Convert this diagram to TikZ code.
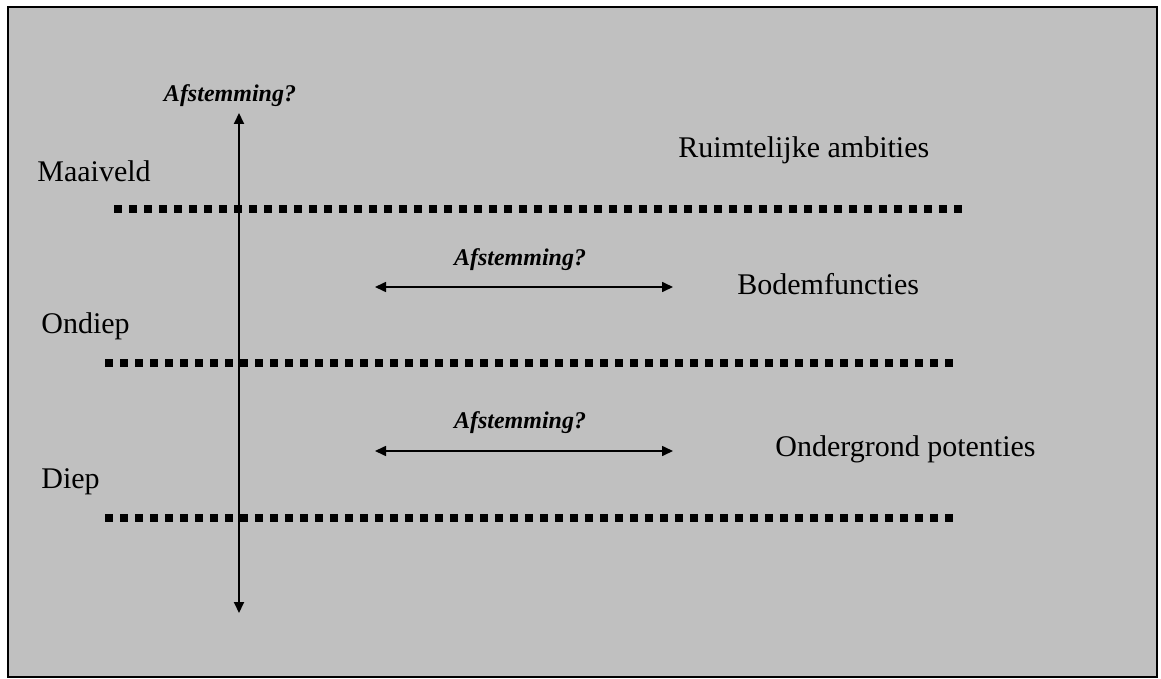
\documentclass[tikz,border=0pt]{standalone}
\usepackage{fontspec}
\setmainfont{Liberation Serif}
\usetikzlibrary{arrows.meta}
\definecolor{bggrey}{HTML}{C0C0C0}

\begin{document}
\begin{tikzpicture}[x=0.5pt,y=-0.5pt,
    lbl/.style={anchor=base west, inner sep=0pt, font=\fontsize{15}{18}\selectfont},
    vraag/.style={anchor=base, inner sep=0pt, font=\fontsize{12}{14}\selectfont\bfseries\itshape},
    laag/.style={line width=4pt, dash pattern=on 4pt off 3.5pt},
    pijl/.style={{Triangle[length=5.5pt,width=5pt]}-{Triangle[length=5.5pt,width=5pt]}, line width=0.8pt}]
    \useasboundingbox (0,0) rectangle (1161,679);
    \draw[fill=bggrey, line width=1pt] (8,7) rectangle (1157,677);
    % lagen
    \draw[laag] (114,209) -- (966,209);
    \draw[laag] (105,363) -- (955,363);
    \draw[laag] (105,518) -- (955,518);
    % teksten
    \node[lbl] (maaiveld) at (37,182) {Maaiveld};
    \node[lbl] (ondiep) at (41,333) {Ondiep};
    \node[lbl] (diep) at (41,488) {Diep};
    \node[lbl] (ambities) at (678,158) {Ruimtelijke ambities};
    \node[lbl] (bodem) at (737,294) {Bodemfuncties};
    \node[lbl] (potenties) at (775,456) {Ondergrond potenties};
    % afstemming
    \node[vraag] (vraagv) at (230,102) {Afstemming?};
    \node[vraag] (vraagb) at (520,265) {Afstemming?};
    \node[vraag] (vraago) at (520,428) {Afstemming?};
    \coordinate (vtop) at (239,113);
    \coordinate (vbot) at (239,613);
    \coordinate (bl) at (375,287);
    \coordinate (br) at (673,287);
    \coordinate (ol) at (375,451);
    \coordinate (or) at (673,451);
    \draw[pijl, line width=1pt] (vtop) -- (vbot);
    \draw[pijl] (bl) -- (br);
    \draw[pijl] (ol) -- (or);
\end{tikzpicture}
\end{document}
